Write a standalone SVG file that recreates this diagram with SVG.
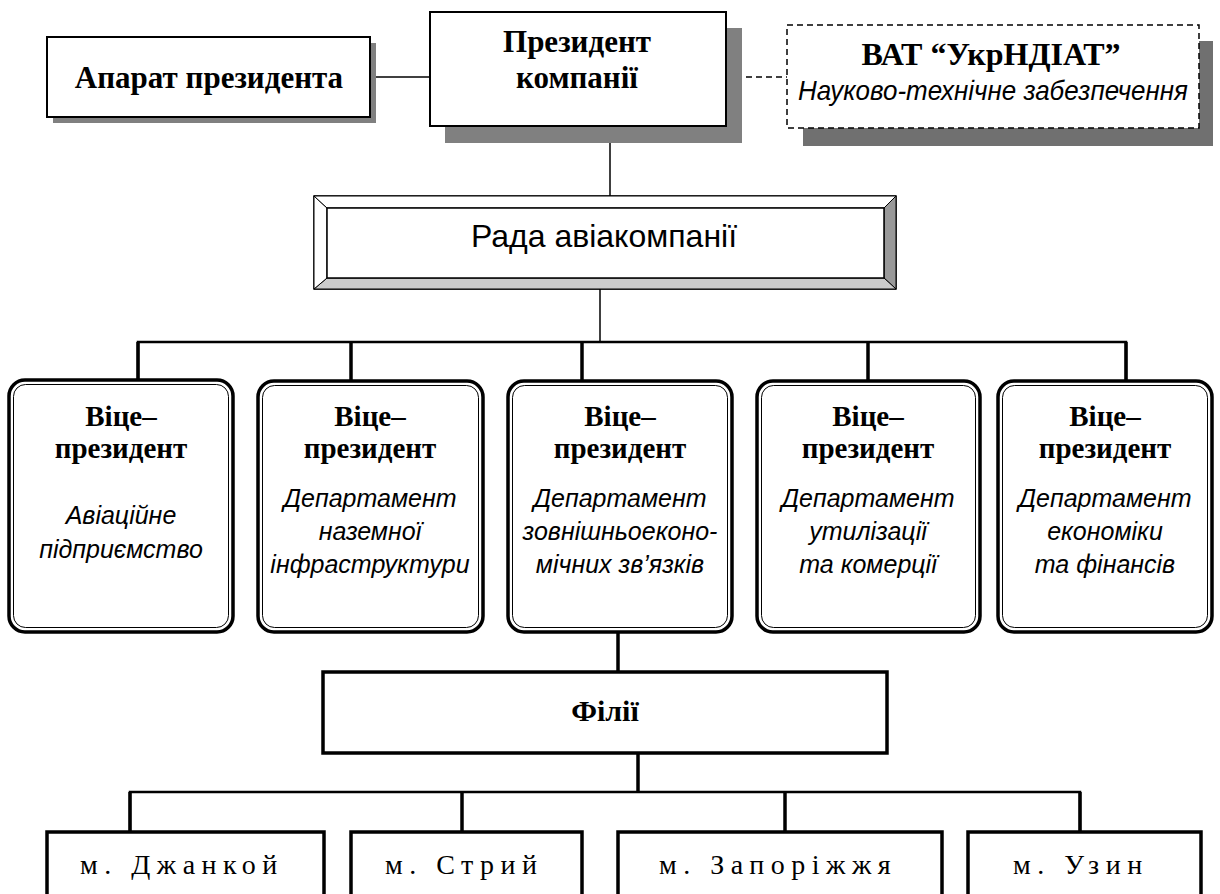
<svg xmlns="http://www.w3.org/2000/svg" width="1220" height="894" viewBox="0 0 1220 894">
<style>
.b{font-family:"Liberation Serif","Times New Roman",serif;font-weight:bold;fill:#000;text-anchor:middle}
.i{font-family:"Liberation Sans",Arial,sans-serif;font-style:italic;fill:#000;text-anchor:middle}
.r{font-family:"Liberation Sans",Arial,sans-serif;fill:#000;text-anchor:middle}
.c{font-family:"Liberation Serif","Times New Roman",serif;fill:#000;font-size:28px;letter-spacing:6.5px}
.box{fill:#fff;stroke:#000;stroke-width:2}
.sh{fill:#808080}
.vp{fill:#fff;stroke:#000;stroke-width:3.5}
.vpi{fill:none;stroke:#000;stroke-width:1}
.thick{fill:#fff;stroke:#000;stroke-width:3.5}
.ln{fill:none;stroke:#000;stroke-width:1.5}
.bus{fill:none;stroke:#000;stroke-width:2.5}
.drop{fill:none;stroke:#000;stroke-width:3.5}
</style>
<rect width="1220" height="894" fill="#fff"/>

<g id="connectors">
<line class="ln" x1="370" y1="77" x2="430" y2="77"/>
<line class="ln" x1="726" y1="77" x2="787" y2="77" stroke-dasharray="6,4"/>
<line class="ln" x1="610" y1="126" x2="610" y2="196"/>
<line class="ln" x1="600" y1="289" x2="600" y2="342"/>
<polyline class="bus" points="138,380 138,342 1126,342 1126,380"/>
<line class="drop" x1="138" y1="342" x2="138" y2="380"/>
<line class="drop" x1="351" y1="342" x2="351" y2="381"/>
<line class="drop" x1="582" y1="342" x2="582" y2="381"/>
<line class="drop" x1="868" y1="342" x2="868" y2="381"/>
<line class="drop" x1="1126" y1="342" x2="1126" y2="381"/>
<line class="drop" x1="618" y1="632" x2="618" y2="672"/>
<line class="drop" x1="638" y1="753" x2="638" y2="792"/>
<polyline class="bus" points="130,832 130,792 1080,792 1080,832"/>
<line class="drop" x1="130" y1="792" x2="130" y2="832"/>
<line class="drop" x1="462" y1="792" x2="462" y2="832"/>
<line class="drop" x1="785" y1="792" x2="785" y2="832"/>
<line class="drop" x1="1080" y1="792" x2="1080" y2="832"/>
</g>

<g id="apparat">
<rect class="sh" x="53" y="43" width="323" height="80"/>
<rect class="box" x="47" y="37" width="323" height="80"/>
<text class="b" x="209" y="88" font-size="31">Апарат президента</text>
</g>

<g id="president">
<rect class="sh" x="445" y="28" width="297" height="115"/>
<rect class="box" x="430" y="12" width="296" height="114"/>
<text class="b" x="577" y="52" font-size="31">Президент</text>
<text class="b" x="577" y="88" font-size="31">компанії</text>
</g>

<g id="vat">
<rect x="803" y="41" width="410" height="105" fill="#707070"/>
<rect x="787" y="25" width="412" height="103" fill="#fff" stroke="#000" stroke-width="1.5" stroke-dasharray="6,4"/>
<text class="b" x="991" y="65" font-size="32">ВАТ “УкрНДІАТ”</text>
<text class="i" x="993" y="100" font-size="28" textLength="390" lengthAdjust="spacingAndGlyphs">Науково-технічне забезпечення</text>
</g>

<g id="rada">
<rect x="314" y="196" width="582" height="93" fill="#fff" stroke="#000" stroke-width="1.5"/>
<polygon points="896,196 884,208 884,278 896,289" fill="#999" stroke="#000" stroke-width="1"/>
<polygon points="314,289 327,278 884,278 896,289" fill="#ccc" stroke="#000" stroke-width="1"/>
<polygon points="314,196 327,208 327,278 314,289" fill="#fff" stroke="#000" stroke-width="1"/>
<polygon points="314,196 896,196 884,208 327,208" fill="#fff" stroke="#000" stroke-width="1"/>
<rect x="327" y="208" width="557" height="70" fill="#fff" stroke="#000" stroke-width="1.5"/>
<text class="r" x="604" y="247" font-size="32">Рада авіакомпанії</text>
</g>

<g id="vp1">
<rect class="vp" x="9" y="380" width="224" height="252" rx="16"/>
<rect class="vpi" x="13.5" y="384.5" width="215" height="243" rx="12"/>
<text class="b" x="121" y="426" font-size="29">Віце–</text>
<text class="b" x="121" y="458" font-size="29">президент</text>
<text class="i" x="121" y="524" font-size="25">Авіаційне</text>
<text class="i" x="121" y="558" font-size="25">підприємство</text>
</g>

<g id="vp2">
<rect class="vp" x="258" y="381" width="225" height="251" rx="16"/>
<rect class="vpi" x="262.5" y="385.5" width="216" height="242" rx="12"/>
<text class="b" x="370" y="426" font-size="29">Віце–</text>
<text class="b" x="370" y="458" font-size="29">президент</text>
<text class="i" x="370" y="507" font-size="25">Департамент</text>
<text class="i" x="370" y="540" font-size="25">наземної</text>
<text class="i" x="370" y="573" font-size="25">інфраструктури</text>
</g>

<g id="vp3">
<rect class="vp" x="508" y="381" width="224" height="251" rx="16"/>
<rect class="vpi" x="512.5" y="385.5" width="215" height="242" rx="12"/>
<text class="b" x="620" y="426" font-size="29">Віце–</text>
<text class="b" x="620" y="458" font-size="29">президент</text>
<text class="i" x="620" y="507" font-size="25">Департамент</text>
<text class="i" x="620" y="540" font-size="25">зовнішньоеконо-</text>
<text class="i" x="620" y="573" font-size="25">мічних зв’язків</text>
</g>

<g id="vp4">
<rect class="vp" x="757" y="381" width="223" height="251" rx="16"/>
<rect class="vpi" x="761.5" y="385.5" width="214" height="242" rx="12"/>
<text class="b" x="868" y="426" font-size="29">Віце–</text>
<text class="b" x="868" y="458" font-size="29">президент</text>
<text class="i" x="868" y="507" font-size="25">Департамент</text>
<text class="i" x="868" y="540" font-size="25">утилізації</text>
<text class="i" x="868" y="573" font-size="25">та комерції</text>
</g>

<g id="vp5">
<rect class="vp" x="998" y="381" width="214" height="251" rx="16"/>
<rect class="vpi" x="1002.5" y="385.5" width="205" height="242" rx="12"/>
<text class="b" x="1105" y="426" font-size="29">Віце–</text>
<text class="b" x="1105" y="458" font-size="29">президент</text>
<text class="i" x="1105" y="507" font-size="25">Департамент</text>
<text class="i" x="1105" y="540" font-size="25">економіки</text>
<text class="i" x="1105" y="573" font-size="25">та фінансів</text>
</g>

<g id="filii">
<rect class="thick" x="323" y="672" width="564" height="81"/>
<text class="b" x="605" y="721" font-size="30">Філії</text>
</g>

<g id="city1">
<rect class="thick" x="47" y="832" width="277" height="80"/>
<text class="c" x="80" y="874">м. Джанкой</text>
</g>
<g id="city2">
<rect class="thick" x="351" y="832" width="231" height="80"/>
<text class="c" x="385" y="874">м. Стрий</text>
</g>
<g id="city3">
<rect class="thick" x="618" y="832" width="324" height="80"/>
<text class="c" x="659" y="874">м. Запоріжжя</text>
</g>
<g id="city4">
<rect class="thick" x="968" y="832" width="233" height="80"/>
<text class="c" x="1013" y="874">м. Узин</text>
</g>
</svg>
